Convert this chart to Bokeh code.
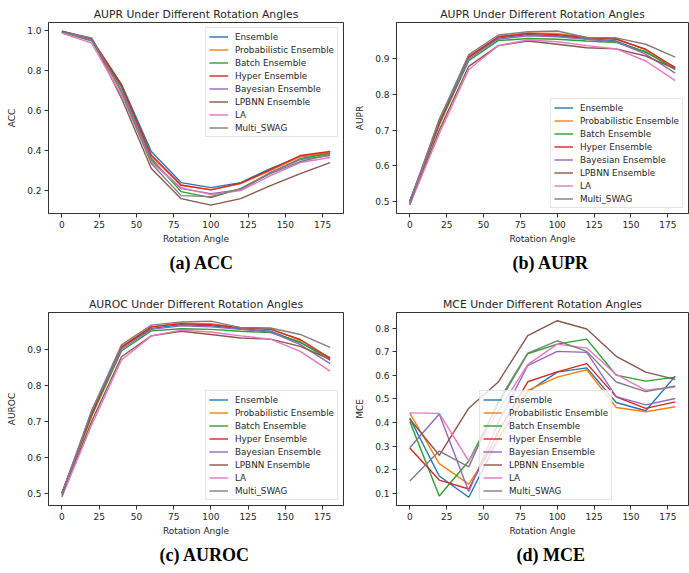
from bokeh.plotting import figure
from bokeh.layouts import gridplot
from bokeh.models import FixedTicker, PrintfTickFormatter, Legend, LegendItem, Title, Range1d
from bokeh.embed import file_html
from bokeh.resources import INLINE

angles = [0, 20, 40, 60, 80, 100, 120, 140, 160, 180]
methods = ["Ensemble", "Probabilistic Ensemble", "Batch Ensemble", "Hyper Ensemble",
           "Bayesian Ensemble", "LPBNN Ensemble", "LA", "Multi_SWAG"]
colors = ["#1f77b4", "#ff7f0e", "#2ca02c", "#d62728", "#9467bd", "#8c564b", "#e377c2", "#7f7f7f"]

acc_ensemble = [0.995, 0.955, 0.73, 0.395, 0.24, 0.215, 0.24, 0.31, 0.37, 0.385]
acc_prob = [0.993, 0.955, 0.72, 0.37, 0.225, 0.205, 0.235, 0.30, 0.37, 0.39]
acc_batch = [0.99, 0.945, 0.715, 0.36, 0.195, 0.165, 0.21, 0.29, 0.36, 0.385]
acc_hyper = [0.993, 0.955, 0.725, 0.378, 0.228, 0.204, 0.237, 0.305, 0.375, 0.395]
acc_bayes = [0.99, 0.95, 0.70, 0.35, 0.21, 0.185, 0.205, 0.29, 0.355, 0.375]
acc_lpbnn = [0.995, 0.96, 0.66, 0.31, 0.16, 0.128, 0.16, 0.225, 0.285, 0.34]
acc_la = [0.985, 0.935, 0.675, 0.34, 0.215, 0.18, 0.20, 0.275, 0.34, 0.365]
acc_swag = [0.99, 0.96, 0.69, 0.335, 0.175, 0.17, 0.21, 0.285, 0.345, 0.38]

aupr_ensemble = [0.50, 0.72, 0.905, 0.958, 0.968, 0.965, 0.957, 0.95, 0.918, 0.877]
aupr_prob = [0.50, 0.715, 0.908, 0.962, 0.973, 0.971, 0.96, 0.957, 0.925, 0.875]
aupr_batch = [0.50, 0.715, 0.895, 0.951, 0.957, 0.955, 0.95, 0.946, 0.92, 0.87]
aupr_hyper = [0.50, 0.72, 0.905, 0.962, 0.971, 0.968, 0.96, 0.955, 0.927, 0.875]
aupr_bayes = [0.50, 0.73, 0.90, 0.955, 0.965, 0.962, 0.955, 0.948, 0.913, 0.86]
aupr_lpbnn = [0.495, 0.70, 0.879, 0.937, 0.95, 0.941, 0.931, 0.928, 0.908, 0.872]
aupr_la = [0.49, 0.69, 0.87, 0.937, 0.953, 0.948, 0.937, 0.928, 0.894, 0.839]
aupr_swag = [0.49, 0.73, 0.912, 0.967, 0.976, 0.978, 0.96, 0.959, 0.941, 0.905]

auroc_ensemble = [0.50, 0.72, 0.905, 0.958, 0.968, 0.965, 0.957, 0.95, 0.918, 0.877]
auroc_prob = [0.50, 0.715, 0.908, 0.962, 0.973, 0.971, 0.96, 0.957, 0.925, 0.875]
auroc_batch = [0.50, 0.715, 0.895, 0.951, 0.957, 0.955, 0.95, 0.946, 0.92, 0.87]
auroc_hyper = [0.50, 0.72, 0.905, 0.962, 0.971, 0.968, 0.96, 0.955, 0.927, 0.875]
auroc_bayes = [0.50, 0.73, 0.90, 0.955, 0.965, 0.962, 0.955, 0.948, 0.913, 0.86]
auroc_lpbnn = [0.495, 0.70, 0.879, 0.937, 0.95, 0.941, 0.931, 0.928, 0.908, 0.872]
auroc_la = [0.49, 0.69, 0.87, 0.937, 0.953, 0.948, 0.937, 0.928, 0.894, 0.839]
auroc_swag = [0.49, 0.73, 0.912, 0.967, 0.976, 0.978, 0.96, 0.959, 0.941, 0.905]

mce_ensemble = [0.419, 0.173, 0.083, 0.33, 0.53, 0.614, 0.632, 0.485, 0.45, 0.597]
mce_prob = [0.44, 0.226, 0.139, 0.33, 0.537, 0.593, 0.624, 0.464, 0.446, 0.467]
mce_batch = [0.405, 0.088, 0.237, 0.48, 0.692, 0.733, 0.754, 0.601, 0.576, 0.593]
mce_hyper = [0.292, 0.156, 0.118, 0.36, 0.573, 0.615, 0.65, 0.509, 0.46, 0.488]
mce_bayes = [0.293, 0.436, 0.107, 0.40, 0.642, 0.702, 0.698, 0.51, 0.475, 0.502]
mce_lpbnn = [0.415, 0.261, 0.461, 0.572, 0.769, 0.832, 0.797, 0.681, 0.614, 0.583]
mce_la = [0.441, 0.439, 0.236, 0.45, 0.646, 0.733, 0.716, 0.604, 0.537, 0.551]
mce_swag = [0.152, 0.279, 0.212, 0.49, 0.695, 0.747, 0.702, 0.572, 0.531, 0.555]

x_ticks = [0, 25, 50, 75, 100, 125, 150, 175]

FONT = "DejaVu Sans"
TXT = "#262626"


def panel(title, ylabel, series, yr, yticks, caption, width, height,
          mb_left, mb_right, mb_bottom, legend_loc, cap_offset):
    p = figure(width=width, height=height, output_backend="svg", toolbar_location=None,
               x_range=Range1d(-9, 189), y_range=Range1d(*yr),
               min_border_left=mb_left, min_border_right=mb_right,
               min_border_top=22, min_border_bottom=mb_bottom)
    p.title.text = title
    p.title.text_font = FONT
    p.title.text_font_size = "10.8px"
    p.title.text_font_style = "normal"
    p.title.text_color = TXT
    p.title.align = "center"
    p.title.standoff = 4
    p.grid.visible = False
    p.outline_line_color = "#333333"
    p.outline_line_width = 1
    p.outline_line_alpha = 1
    for ax in (p.xaxis[0], p.yaxis[0]):
        ax.axis_line_color = "#333333"
        ax.major_tick_line_color = "#333333"
        ax.minor_tick_line_color = None
        ax.major_tick_in = 0
        ax.major_tick_out = 4
        ax.major_label_text_font = FONT
        ax.major_label_text_font_size = "9px"
        ax.major_label_text_color = TXT
        ax.axis_label_text_font = FONT
        ax.axis_label_text_font_size = "9px"
        ax.axis_label_text_font_style = "normal"
        ax.axis_label_text_color = TXT
    p.xaxis.ticker = FixedTicker(ticks=x_ticks)
    p.xaxis.axis_label = "Rotation Angle"
    p.xaxis.major_label_standoff = 3
    p.xaxis.axis_label_standoff = 3
    p.yaxis.ticker = FixedTicker(ticks=yticks)
    p.yaxis.formatter = PrintfTickFormatter(format="%.1f")
    p.yaxis.axis_label = ylabel
    p.yaxis.major_label_standoff = 3
    p.yaxis.axis_label_standoff = 7

    items = []
    for name, color, vals in zip(methods, colors, series):
        r = p.line(angles, vals, line_color=color, line_width=1.4)
        items.append(LegendItem(label=name, renderers=[r]))
    leg = Legend(items=items, location=legend_loc)
    leg.label_text_font = FONT
    leg.label_text_font_size = "8.8px"
    leg.label_text_color = TXT
    leg.glyph_width = 19
    leg.glyph_height = 11
    leg.label_height = 11
    leg.spacing = 2
    leg.padding = 3
    leg.margin = 5
    leg.label_standoff = 7
    leg.border_line_color = "#cccccc"
    leg.border_line_width = 1
    leg.background_fill_color = "white"
    leg.background_fill_alpha = 0.8
    p.add_layout(leg)

    cap = Title(text=caption, align="left", offset=cap_offset, text_font="Liberation Serif",
                text_font_size="18px", text_font_style="bold", text_color="black", standoff=8)
    p.add_layout(cap, "below")
    return p


pa = panel("AUPR Under Different Rotation Angles", "ACC",
           [acc_ensemble, acc_prob, acc_batch, acc_hyper, acc_bayes, acc_lpbnn, acc_la, acc_swag],
           (0.086, 1.038), [0.2, 0.4, 0.6, 0.8, 1.0], "(a) ACC", 345, 290, 48, 2, 77, "top_right", 121)
pb = panel("AUPR Under Different Rotation Angles", "AUPR",
           [aupr_ensemble, aupr_prob, aupr_batch, aupr_hyper, aupr_bayes, aupr_lpbnn, aupr_la, aupr_swag],
           (0.466, 1.002), [0.5, 0.6, 0.7, 0.8, 0.9], "(b) AUPR", 344, 290, 51, 0, 77, "bottom_right", 116)
pc = panel("AUROC Under Different Rotation Angles", "AUROC",
           [auroc_ensemble, auroc_prob, auroc_batch, auroc_hyper, auroc_bayes, auroc_lpbnn, auroc_la, auroc_swag],
           (0.466, 1.002), [0.5, 0.6, 0.7, 0.8, 0.9], "(c) AUROC", 345, 283, 48, 2, 68, "bottom_right", 111)
pd_ = panel("MCE Under Different Rotation Angles", "MCE",
            [mce_ensemble, mce_prob, mce_batch, mce_hyper, mce_bayes, mce_lpbnn, mce_la, mce_swag],
            (0.048, 0.867), [0.1, 0.2, 0.3, 0.4, 0.5, 0.6, 0.7, 0.8], "(d) MCE", 344, 283, 49, 1, 68, (83, 5), 120)

grid = gridplot([[pa, pb], [pc, pd_]], toolbar_location=None)

open("out.html", "w").write(file_html(grid, INLINE))
